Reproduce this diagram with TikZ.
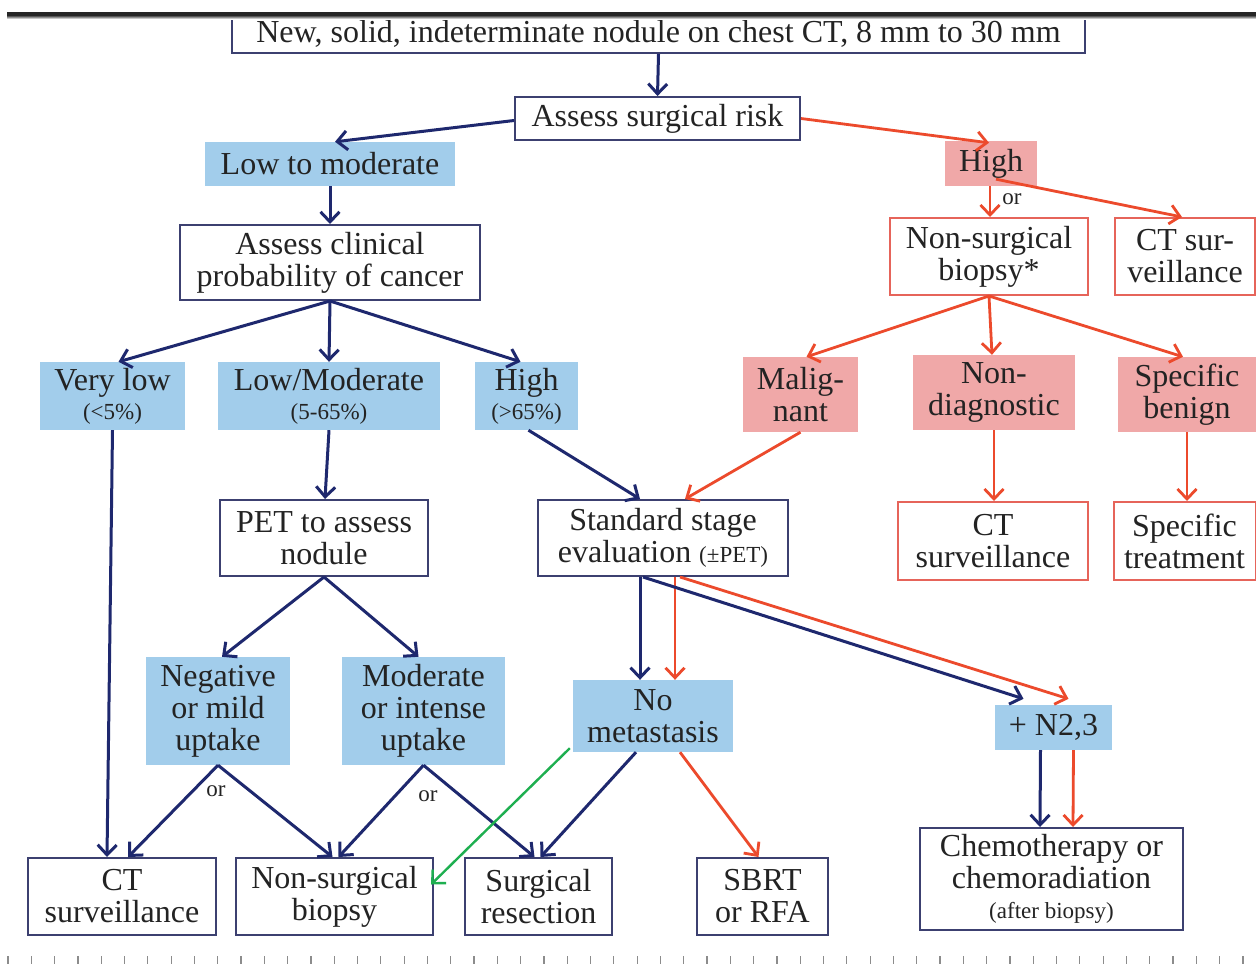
\documentclass[tikz,border=0pt]{standalone}
\usepackage{fontspec}
\setmainfont{Liberation Serif}
\usetikzlibrary{arrows.meta,calc}
\definecolor{bfillc}{RGB}{162,205,235}
\definecolor{rfillc}{RGB}{240,168,168}
\definecolor{navy}{RGB}{30,40,110}
\definecolor{redarr}{RGB}{236,74,44}
\definecolor{bborder}{RGB}{60,64,112}
\definecolor{rborder}{RGB}{230,100,90}
\definecolor{greenarr}{RGB}{30,175,80}
\definecolor{txt}{RGB}{35,35,35}
\newcommand\fBig{\fontsize{32}{32}\selectfont}
\newcommand\fSm{\fontsize{23}{23}\selectfont}
\tikzset{
  base/.style={rectangle, align=center, inner sep=0pt, text=txt, font=\fBig},
  bbox/.style={base, draw=bborder, line width=2pt, fill=white},
  rbox/.style={base, draw=rborder, line width=2pt, fill=white},
  bfl/.style={base, fill=bfillc},
  rfl/.style={base, fill=rfillc},
  sz/.style 2 args={minimum width=#1pt, minimum height=#2pt},
  tipstyle/.style={-{Straight Barb[length=10pt,width=19pt]}},
  barr/.style={draw=navy, line width=3pt, tipstyle},
  rarr/.style={draw=redarr, line width=2.8pt, tipstyle},
  garr/.style={draw=greenarr, line width=2.4pt, tipstyle},
  orlab/.style={text=txt, font=\fSm, inner sep=0pt}
}
\begin{document}
\begin{tikzpicture}[x=1pt,y=-1pt]
\useasboundingbox (0,0) rectangle (1256,964);
\fill[white] (0,0) rectangle (1256,964);

% top row
\node[bbox, sz={853}{38}] (top) at (658.5,34) {New, solid, indeterminate nodule on chest CT, 8 mm to 30 mm};
\node[bbox, sz={285}{43}] (asr) at (657.5,118.5) {Assess surgical risk};
\node[bfl, sz={250}{44}] (ltm) at (330,164) {Low to moderate};
\node[rfl, sz={92}{45}] (high1) at (991,163.5) {High};

% right branch
\node[rbox, sz={198}{77}] (nsb1) at (989,256.5) {Non-surgical\\biopsy*};
\node[rbox, sz={140}{77}] (cts1) at (1185,256.5) {CT sur-\\veillance};
\node[rfl, sz={115}{75}] (mal) at (800.5,394.5) {Malig-\\nant};
\node[rfl, sz={162}{75}] (nond) at (994,392.5) {Non-\\diagnostic};
\node[rfl, sz={138}{75}] (specb) at (1187,394.5) {Specific\\benign};
\node[rbox, sz={190}{78}] (cts2) at (993,541) {CT\\surveillance};
\node[rbox, sz={142}{78}] (spect) at (1184.5,541) {Specific\\treatment};

% left branch
\node[bbox, sz={300}{75}] (acp) at (330,262.5) {Assess clinical\\probability of cancer};
\node[bfl, sz={145}{68}] (vlow) at (112.5,396) {Very low\\[-3pt]{\fSm(<5\%)}};
\node[bfl, sz={222}{68}] (lowmod) at (329,396) {Low/Moderate\\[-3pt]{\fSm(5-65\%)}};
\node[bfl, sz={103}{68}] (highp) at (526.5,396) {High\\[-3pt]{\fSm(>65\%)}};
\node[bbox, sz={208}{76}] (pet) at (324,538) {PET to assess\\nodule};
\node[bbox, sz={250}{76}] (sse) at (663,538) {Standard stage\\evaluation {\fSm(±PET)}};
\node[bfl, sz={144}{108}] (neg) at (218,711) {Negative\\or mild\\uptake};
\node[bfl, sz={163}{108}] (mod) at (423.5,711) {Moderate\\or intense\\uptake};
\node[bfl, sz={160}{72}] (nomet) at (653,716) {No\\metastasis};
\node[bfl, sz={117}{45}] (n23) at (1053.5,727.5) {+ N2,3};
\node[bbox, sz={263}{102}] (chemo) at (1051.5,879) {Chemotherapy or\\chemoradiation\\[-2pt]{\fSm(after biopsy)}};

% bottom row
\node[bbox, sz={188}{77}] (ctsB) at (122,896.5) {CT\\surveillance};
\node[bbox, sz={197}{77}] (nsbB) at (334.5,896.5) {Non-surgical\\biopsy};
\node[bbox, sz={147}{77}] (srB) at (538.5,896.5) {Surgical\\resection};
\node[bbox, sz={131}{77}] (sbrt) at (762.5,896.5) {SBRT\\or RFA};

% top bar
\fill[black!85] (7,12) rectangle (1256,16.5);
\shade[top color=black!55, bottom color=white] (7,16.5) rectangle (1256,19);

% connectors
\draw[barr] (top.south) -- (asr.north);
\draw[barr] ($(asr.west)+(0,2)$) -- ($(ltm.north)+(5,0)$);
\draw[rarr] ($(asr.east)+(0,0)$) -- ($(high1.north)+(-2,2)$);
\draw[rarr] ($(high1.south)+(-1,0)$) -- ($(nsb1.north)+(1,0)$);
\node[orlab] (or1) at (1012,199) {or};
\draw[rarr] ($(high1.south)+(5,-7)$) -- ($(cts1.north)+(-3,0)$);
\draw[rarr] (nsb1.south) -- ($(mal.north)+(6,0)$);
\draw[rarr] (nsb1.south) -- ($(nond.north)+(-2,0)$);
\draw[rarr] (nsb1.south) -- ($(specb.north)+(-4,0)$);
\draw[rarr] (mal.south) -- ($(sse.north)+(22,0)$);
\draw[rarr] (nond.south) -- ($(cts2.north)+(1,0)$);
\draw[rarr] (specb.south) -- ($(spect.north)+(2.5,0)$);

\draw[barr] (ltm.south) -- (acp.north);
\draw[barr] (acp.south) -- ($(vlow.north)+(6,0)$);
\draw[barr] (acp.south) -- ($(lowmod.north)+(0,0)$);
\draw[barr] (acp.south) -- ($(highp.north)+(-6,0)$);
\draw[barr] (vlow.south) -- ($(ctsB.north)+(-15,0)$);
\draw[barr] (lowmod.south) -- ($(pet.north)+(1,0)$);
\draw[barr] ($(highp.south)+(2,0)$) -- ($(sse.north)+(-23,0)$);
\draw[barr] (pet.south) -- ($(neg.north)+(4,0)$);
\draw[barr] (pet.south) -- ($(mod.north)+(-5,0)$);
\draw[barr] (neg.south) -- ($(ctsB.north)+(6,0)$);
\draw[barr] (neg.south) -- ($(nsbB.north)+(-2,0)$);
\node[orlab] (or2) at (216,791) {or};
\draw[barr] (mod.south) -- ($(nsbB.north)+(4,0)$);
\draw[barr] (mod.south) -- ($(srB.north)+(-4,0)$);
\node[orlab] (or3) at (428,796) {or};

\draw[barr] ($(sse.south)+(-23,0)$) -- ($(nomet.north)+(-13,0)$);
\draw[rarr] ($(sse.south)+(12,0)$) -- ($(nomet.north)+(22,0)$);
\draw[barr] ($(sse.south)+(-20,0)$) -- ($(n23.north)+(-30,-6)$);
\draw[rarr] ($(sse.south)+(17,0)$) -- ($(n23.north)+(15,-6)$);
\draw[barr] ($(n23.south)+(-13,0)$) -- ($(chemo.north)+(-11.5,0)$);
\draw[rarr] ($(n23.south)+(20,0)$) -- ($(chemo.north)+(21.5,0)$);
\draw[barr] ($(nomet.south)+(-17,0)$) -- ($(srB.north)+(2,0)$);
\draw[rarr] ($(nomet.south)+(27,0)$) -- ($(sbrt.north)+(-4,0)$);
\draw[garr] ($(nomet.south west)+(-3,-4)$) -- ($(nsbB.east)+(-3,-12)$);

% bottom ticks
\foreach \i in {0,...,53} {
  \draw[black!45, line width=1.2pt] ({8+23.3*\i},956) -- ({8+23.3*\i},964);
}
\end{tikzpicture}
\end{document}
